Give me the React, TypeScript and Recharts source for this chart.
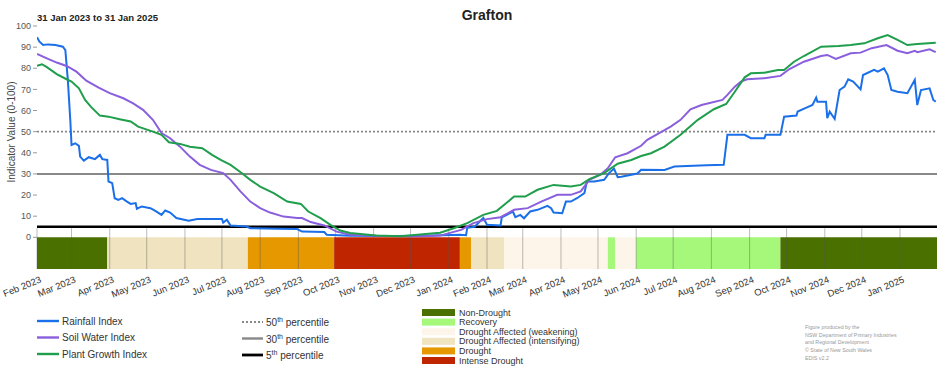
import React from 'react';
import { ComposedChart, Line, XAxis, YAxis, ReferenceArea, ReferenceLine } from 'recharts';

// ---------- DATA ----------
const title = 'Grafton';
const periodLabel = '31 Jan 2023 to 31 Jan 2025';
const xStart = '2023-02-01';
const xEnd = '2025-01-31';

const rainfallIndex: [string, number][] = [
  ['2023-02-01', 94.7], ['2023-02-03', 92.6], ['2023-02-06', 91.0], ['2023-02-10', 91.3], ['2023-02-16', 91.0],
  ['2023-02-22', 90.2], ['2023-02-24', 88.6], ['2023-02-26', 74.5], ['2023-02-28', 55.5], ['2023-03-01', 43.7],
  ['2023-03-04', 44.5], ['2023-03-07', 43.3], ['2023-03-08', 38.2], ['2023-03-11', 36.3], ['2023-03-15', 37.9],
  ['2023-03-20', 37.0], ['2023-03-24', 39.0], ['2023-03-26', 37.0], ['2023-03-30', 36.6], ['2023-03-31', 26.4],
  ['2023-04-03', 25.6], ['2023-04-05', 18.5], ['2023-04-08', 17.7], ['2023-04-11', 18.5], ['2023-04-15', 16.9],
  ['2023-04-18', 15.8], ['2023-04-22', 16.2], ['2023-04-23', 13.5], ['2023-04-27', 14.6], ['2023-05-04', 13.8],
  ['2023-05-08', 12.5], ['2023-05-13', 10.6], ['2023-05-16', 12.7], ['2023-05-20', 11.7], ['2023-05-25', 9.1],
  ['2023-06-04', 7.9], ['2023-06-11', 8.7], ['2023-07-01', 8.7], ['2023-07-02', 7.0], ['2023-07-05', 8.3],
  ['2023-07-08', 5.6], ['2023-07-21', 5.1], ['2023-07-24', 4.3], ['2023-08-15', 4.0], ['2023-08-31', 3.9],
  ['2023-09-04', 2.7], ['2023-09-22', 2.5], ['2023-09-24', 1.2], ['2023-10-13', 0.7], ['2023-11-20', 0.6],
  ['2023-12-20', 0.8], ['2024-01-10', 1.2], ['2024-01-15', 1.0], ['2024-01-16', 4.5], ['2024-01-22', 5.0],
  ['2024-01-29', 9.2], ['2024-02-01', 5.9], ['2024-02-12', 5.6], ['2024-02-13', 9.5], ['2024-02-17', 10.6],
  ['2024-02-22', 12.2], ['2024-02-24', 9.5], ['2024-02-28', 10.6], ['2024-03-02', 9.0], ['2024-03-07', 12.2],
  ['2024-03-13', 13.0], ['2024-03-21', 14.9], ['2024-03-24', 13.8], ['2024-03-26', 11.7], ['2024-04-02', 11.4],
  ['2024-04-05', 16.9], ['2024-04-09', 16.9], ['2024-04-14', 18.5], ['2024-04-20', 20.9], ['2024-04-22', 26.4],
  ['2024-04-28', 26.4], ['2024-05-06', 27.2], ['2024-05-10', 30.4], ['2024-05-14', 32.5], ['2024-05-17', 28.5],
  ['2024-05-20', 28.7], ['2024-06-02', 30.2], ['2024-06-05', 32.0], ['2024-06-24', 31.9], ['2024-07-02', 33.5],
  ['2024-07-28', 34.1], ['2024-08-11', 34.3], ['2024-08-14', 48.5], ['2024-08-28', 48.5], ['2024-09-02', 46.9],
  ['2024-09-13', 46.9], ['2024-09-14', 48.5], ['2024-09-26', 48.5], ['2024-09-29', 57.1], ['2024-10-09', 57.6],
  ['2024-10-10', 59.5], ['2024-10-18', 61.6], ['2024-10-22', 62.6], ['2024-10-25', 66.1], ['2024-10-26', 64.2],
  ['2024-11-02', 64.2], ['2024-11-03', 56.4], ['2024-11-05', 59.5], ['2024-11-09', 56.0], ['2024-11-13', 69.7],
  ['2024-11-17', 71.3], ['2024-11-20', 74.8], ['2024-11-24', 73.7], ['2024-11-30', 70.0], ['2024-12-02', 76.8],
  ['2024-12-11', 79.2], ['2024-12-14', 78.4], ['2024-12-19', 80.0], ['2024-12-22', 76.8], ['2024-12-25', 69.7],
  ['2024-12-30', 68.9], ['2025-01-07', 68.2], ['2025-01-13', 74.5], ['2025-01-15', 62.6], ['2025-01-18', 69.7],
  ['2025-01-25', 70.5], ['2025-01-28', 65.0], ['2025-01-30', 64.2],
];

const soilWaterIndex: [string, number][] = [
  ['2023-02-01', 86.8], ['2023-02-09', 84.7], ['2023-02-17', 82.7], ['2023-02-25', 81.1], ['2023-03-05', 78.4],
  ['2023-03-13', 74.1], ['2023-03-23', 70.8], ['2023-04-01', 68.2], ['2023-04-12', 65.8], ['2023-04-20', 63.4],
  ['2023-04-28', 60.3], ['2023-05-06', 55.6], ['2023-05-13', 49.3], ['2023-05-20', 46.9], ['2023-05-28', 42.9],
  ['2023-06-05', 38.2], ['2023-06-13', 34.3], ['2023-06-22', 31.9], ['2023-07-02', 30.4], ['2023-07-08', 27.2],
  ['2023-07-16', 21.7], ['2023-07-24', 16.9], ['2023-08-01', 13.8], ['2023-08-09', 11.7], ['2023-08-20', 9.8],
  ['2023-08-31', 9.1], ['2023-09-04', 9.1], ['2023-09-11', 7.2], ['2023-09-22', 5.6], ['2023-10-02', 2.7],
  ['2023-10-13', 1.2], ['2023-11-07', 0.6], ['2023-12-09', 0.5], ['2023-12-25', 0.8], ['2024-01-02', 2.1],
  ['2024-01-11', 3.5], ['2024-01-21', 6.7], ['2024-02-01', 8.6], ['2024-02-12', 9.5], ['2024-02-23', 13.0],
  ['2024-03-05', 13.8], ['2024-03-16', 16.9], ['2024-03-29', 20.1], ['2024-04-09', 20.1], ['2024-04-17', 21.7],
  ['2024-04-24', 27.2], ['2024-05-03', 29.6], ['2024-05-09', 32.7], ['2024-05-15', 37.9], ['2024-05-25', 39.8],
  ['2024-06-05', 43.3], ['2024-06-10', 46.1], ['2024-06-29', 52.4], ['2024-07-07', 55.6], ['2024-07-15', 60.6],
  ['2024-07-24', 62.6], ['2024-08-10', 65.0], ['2024-08-14', 67.4], ['2024-08-20', 71.3], ['2024-08-25', 73.7],
  ['2024-08-30', 74.8], ['2024-09-13', 75.3], ['2024-09-26', 76.4], ['2024-10-03', 79.5], ['2024-10-15', 83.1],
  ['2024-10-29', 85.8], ['2024-11-03', 86.3], ['2024-11-10', 84.4], ['2024-11-22', 87.1], ['2024-11-30', 87.4],
  ['2024-12-09', 89.5], ['2024-12-21', 91.0], ['2024-12-30', 88.3], ['2025-01-07', 87.1], ['2025-01-13', 88.3],
  ['2025-01-15', 87.6], ['2025-01-25', 89.0], ['2025-01-30', 87.6],
];

const plantGrowthIndex: [string, number][] = [
  ['2023-02-01', 81.2], ['2023-02-05', 81.9], ['2023-02-09', 80.5], ['2023-02-17', 77.2], ['2023-02-25', 74.8],
  ['2023-03-01', 73.7], ['2023-03-07', 70.5], ['2023-03-12', 65.0], ['2023-03-17', 61.6], ['2023-03-24', 57.6],
  ['2023-03-31', 57.1], ['2023-04-09', 55.9], ['2023-04-18', 54.8], ['2023-04-24', 52.4], ['2023-05-06', 50.0],
  ['2023-05-13', 48.5], ['2023-05-19', 45.0], ['2023-05-28', 44.2], ['2023-06-05', 42.9], ['2023-06-15', 42.2],
  ['2023-06-23', 39.0], ['2023-06-30', 36.6], ['2023-07-08', 34.3], ['2023-07-17', 30.4], ['2023-07-24', 27.2],
  ['2023-08-01', 24.0], ['2023-08-12', 20.9], ['2023-08-23', 16.9], ['2023-09-03', 15.8], ['2023-09-09', 12.2],
  ['2023-09-19', 9.1], ['2023-09-27', 5.9], ['2023-10-05', 3.2], ['2023-10-13', 2.0], ['2023-11-03', 0.8],
  ['2023-11-23', 0.5], ['2023-12-11', 1.5], ['2023-12-25', 2.2], ['2024-01-05', 4.3], ['2024-01-16', 6.7],
  ['2024-01-29', 10.6], ['2024-02-09', 12.5], ['2024-02-23', 19.3], ['2024-03-03', 19.3], ['2024-03-13', 22.5],
  ['2024-03-26', 24.8], ['2024-04-09', 24.0], ['2024-04-17', 24.8], ['2024-04-24', 27.5], ['2024-05-06', 30.4],
  ['2024-05-17', 34.8], ['2024-05-28', 36.6], ['2024-06-05', 38.5], ['2024-06-13', 39.8], ['2024-06-24', 42.9],
  ['2024-07-07', 48.5], ['2024-07-21', 55.6], ['2024-08-03', 60.6], ['2024-08-13', 63.1], ['2024-08-20', 68.9],
  ['2024-08-28', 75.7], ['2024-09-02', 77.6], ['2024-09-13', 77.9], ['2024-09-24', 79.2], ['2024-09-29', 79.2],
  ['2024-10-07', 83.1], ['2024-10-15', 85.8], ['2024-10-29', 90.2], ['2024-11-12', 90.5], ['2024-11-22', 91.0],
  ['2024-12-03', 91.8], ['2024-12-14', 94.2], ['2024-12-22', 95.7], ['2024-12-30', 93.4], ['2025-01-07', 91.0],
  ['2025-01-15', 91.5], ['2025-01-30', 92.1],
];

const stageNames = [
  'Non-Drought',
  'Recovery',
  'Drought Affected (weakening)',
  'Drought Affected (intensifying)',
  'Drought',
  'Intense Drought',
];

// [start, end, stage index]
const stagePeriods: [string, string, number][] = [
  ['2023-02-01', '2023-03-30', 0],
  ['2023-03-30', '2023-07-22', 3],
  ['2023-07-22', '2023-09-30', 4],
  ['2023-09-30', '2024-01-10', 5],
  ['2024-01-10', '2024-01-19', 4],
  ['2024-01-19', '2024-02-15', 3],
  ['2024-02-15', '2024-05-09', 2],
  ['2024-05-09', '2024-05-15', 1],
  ['2024-05-15', '2024-06-01', 2],
  ['2024-06-01', '2024-09-26', 1],
  ['2024-09-26', '2025-01-31', 0],
];

const monthTicks = [
  '2023-02-01', '2023-03-01', '2023-04-01', '2023-05-01', '2023-06-01', '2023-07-01', '2023-08-01', '2023-09-01',
  '2023-10-01', '2023-11-01', '2023-12-01', '2024-01-01', '2024-02-01', '2024-03-01', '2024-04-01', '2024-05-01',
  '2024-06-01', '2024-07-01', '2024-08-01', '2024-09-01', '2024-10-01', '2024-11-01', '2024-12-01', '2025-01-01',
];
const monthNames = ['Jan', 'Feb', 'Mar', 'Apr', 'May', 'Jun', 'Jul', 'Aug', 'Sep', 'Oct', 'Nov', 'Dec'];
const yTicks = [0, 10, 20, 30, 40, 50, 60, 70, 80, 90, 100];
const seriesNames = ['Rainfall Index', 'Soil Water Index', 'Plant Growth Index'];
const percentileLevels = [50, 30, 5];
const creditLines = [
  'Figure produced by the',
  'NSW Department of Primary Industries',
  'and Regional Development',
  '\u00A9 State of New South Wales',
  'EDIS v2.2',
];

// ---------- STYLE ----------
const FONT = '"Liberation Sans", Arial, sans-serif';
const seriesColors = ['#1b6fe8', '#8a5fdd', '#1f9e4c'];
const stageColors = ['#4a7000', '#a5f87a', '#fdf5e9', '#efe3c0', '#e69800', '#bf2600'];
const percentileStyles = [
  { stroke: '#888', width: 1.6, dash: '2 2' },
  { stroke: '#888', width: 2, dash: undefined },
  { stroke: '#000', width: 2.4, dash: undefined },
];
const BAND_MIN = -15;

const ts = (s: string) => Date.parse(s + 'T00:00:00Z');
const toPoints = (arr: [string, number][]) => arr.map(([d, v]) => ({ t: ts(d), v }));

const MonthTick = (props: any) => {
  const { x, y, payload } = props;
  const d = new Date(payload.value);
  const label = `${monthNames[d.getUTCMonth()]} ${d.getUTCFullYear()}`;
  const px = x + 5;
  const py = y + 13;
  return (
    <text x={px} y={py} transform={`rotate(-22 ${px} ${py})`} textAnchor="end" fontSize={9.5} fill="#333" fontFamily={FONT}>
      {label}
    </text>
  );
};

export default function App() {
  const series = [rainfallIndex, soilWaterIndex, plantGrowthIndex].map(toPoints);
  const tickValues = monthTicks.map(ts);
  return (
    <div style={{ position: 'absolute', left: 0, top: 0, width: 952, height: 370, background: '#fff', fontFamily: FONT }}>
      <ComposedChart width={952} height={370} margin={{ top: 26, right: 15, bottom: 0, left: 0 }}>
        <XAxis
          type="number"
          dataKey="t"
          domain={[ts(xStart), ts(xEnd)]}
          ticks={tickValues}
          tick={<MonthTick />}
          tickLine={false}
          axisLine={false}
          tickSize={0}
          tickMargin={0}
          height={101}
          interval={0}
          allowDataOverflow
        />
        <YAxis
          type="number"
          domain={[BAND_MIN, 100]}
          ticks={yTicks}
          width={37}
          axisLine={false}
          tickLine={{ stroke: '#999' }}
          tickSize={4}
          tickMargin={2}
          tick={{ fontSize: 9, fill: '#555', fontFamily: FONT }}
          interval={0}
          allowDataOverflow
        />
        {stagePeriods.map(([a, b, s], i) => (
          <ReferenceArea
            key={'band' + i}
            x1={ts(a)}
            x2={ts(b)}
            y1={BAND_MIN}
            y2={0}
            fill={stageColors[s]}
            fillOpacity={1}
            stroke="none"
            ifOverflow="visible"
          />
        ))}
        {tickValues.map((t) => (
          <ReferenceLine
            key={'g' + t}
            segment={[{ x: t, y: BAND_MIN }, { x: t, y: 4.3 }]}
            stroke="#555"
            strokeOpacity={0.4}
            strokeWidth={1}
            ifOverflow="visible"
          />
        ))}
        {percentileLevels.map((p, i) => (
          <ReferenceLine
            key={'p' + p}
            y={p}
            stroke={percentileStyles[i].stroke}
            strokeWidth={percentileStyles[i].width}
            strokeDasharray={percentileStyles[i].dash}
          />
        ))}
        {series.map((data, i) => (
          <Line
            key={seriesNames[i]}
            data={data}
            dataKey="v"
            name={seriesNames[i]}
            type="linear"
            stroke={seriesColors[i]}
            strokeWidth={2}
            dot={false}
            activeDot={false}
            isAnimationActive={false}
          />
        ))}
      </ComposedChart>

      <svg width={952} height={370} style={{ position: 'absolute', left: 0, top: 0, pointerEvents: 'none' }} fontFamily={FONT}>
        <text x={487} y={20} textAnchor="middle" fontSize={14} fontWeight="bold" fill="#222">{title}</text>
        <text x={37} y={21} fontSize={9.5} fontWeight="bold" fill="#222">{periodLabel}</text>
        <text x={0} y={0} transform="translate(15 132) rotate(-90)" textAnchor="middle" fontSize={10} fill="#444">
          Indicator Value (0-100)
        </text>

        {seriesNames.map((n, i) => (
          <g key={n}>
            <line x1={37} x2={59} y1={321 + i * 16.5} y2={321 + i * 16.5} stroke={seriesColors[i]} strokeWidth={2.4} />
            <text x={62} y={324.5 + i * 16.5} fontSize={10} fill="#333">{n}</text>
          </g>
        ))}

        {percentileLevels.map((p, i) => (
          <g key={'lp' + p}>
            <line
              x1={242}
              x2={263}
              y1={322 + i * 16.5}
              y2={322 + i * 16.5}
              stroke={percentileStyles[i].stroke}
              strokeWidth={percentileStyles[i].width + 0.4}
              strokeDasharray={percentileStyles[i].dash}
            />
            <text x={266} y={326 + i * 16.5} fontSize={10} fill="#333">
              {p}
              <tspan fontSize={7} dy={-4}>th</tspan>
              <tspan dy={4}> percentile</tspan>
            </text>
          </g>
        ))}

        {stageNames.map((n, i) => (
          <g key={n}>
            <rect x={422} y={309 + i * 9.6} width={33} height={7} fill={stageColors[i]} />
            <text x={459} y={315.5 + i * 9.6} fontSize={9} fill="#333">{n}</text>
          </g>
        ))}

        {creditLines.map((c, i) => (
          <text key={c} x={805} y={329 + i * 7.7} fontSize={5.3} fill="#999">{c}</text>
        ))}
      </svg>
    </div>
  );
}
